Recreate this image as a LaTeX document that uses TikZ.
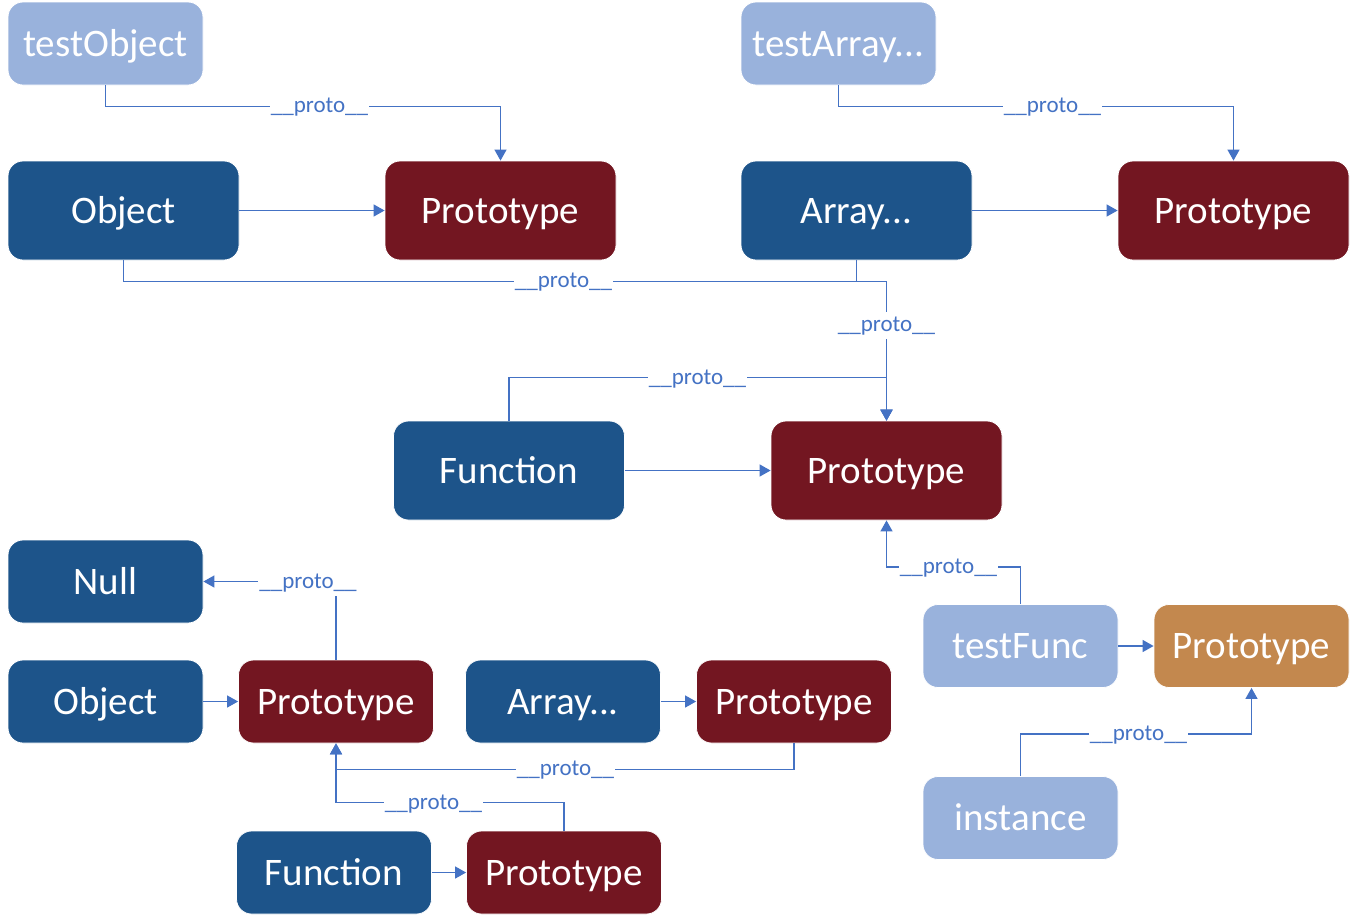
\documentclass[tikz,border=0pt]{standalone}
\usepackage{fontspec}
\setmainfont{Carlito}
\usetikzlibrary{arrows.meta}
\definecolor{lb}{HTML}{99B2DC}
\definecolor{db}{HTML}{1D548A}
\definecolor{dr}{HTML}{731621}
\definecolor{orng}{HTML}{C3884E}
\definecolor{ln}{HTML}{4472C4}
\begin{document}
\begin{tikzpicture}[x=1pt,y=-1pt,
  box/.style={rounded corners=15pt, draw=white, line width=0.8pt, text=white,
    font=\fontsize{39}{47}\selectfont, inner sep=0pt, text height=25pt, text depth=0pt},
  big/.style={box, minimum width=231pt, minimum height=99pt},
  small/.style={box, minimum width=195pt, minimum height=83pt},
  conn/.style={draw=ln, line width=1.4pt, -{Triangle[length=11pt,width=12pt]}},
  lbl/.style={fill=white, text=ln, font=\fontsize{23}{27}\selectfont,
    inner xsep=1pt, inner ysep=7pt, text height=13pt, text depth=0pt}]
\useasboundingbox (0,0) rectangle (1354,916);
% nodes
\node[small, fill=lb] (tobj) at (105.5,43.5) {testObject};
\node[small, fill=lb] (tarr) at (838.5,43.5) {testArray...};
\node[big, fill=db] (obj) at (123.5,210.5) {Object};
\node[big, fill=dr] (ptl) at (500.5,210.5) {Prototype};
\node[big, fill=db] (arr) at (856.5,210.5) {Array...};
\node[big, fill=dr] (ptr) at (1233.5,210.5) {Prototype};
\node[big, fill=db] (fn) at (509,470.5) {Function};
\node[big, fill=dr] (pm) at (886.5,470.5) {Prototype};
\node[small, fill=db] (null) at (105.5,581.5) {Null};
\node[small, fill=db] (objb) at (105.5,701.5) {Object};
\node[small, fill=dr] (pbl) at (336,701.5) {Prototype};
\node[small, fill=db] (arrb) at (563,701.5) {Array...};
\node[small, fill=dr] (pbr) at (794,701.5) {Prototype};
\node[small, fill=db] (fnb) at (334,872.5) {Function};
\node[small, fill=dr] (pb) at (564,872.5) {Prototype};
\node[small, fill=lb] (tf) at (1020.5,646) {testFunc};
\node[small, fill=orng] (po) at (1251.5,646) {Prototype};
\node[small, fill=lb] (inst) at (1020.5,818) {instance};
% connectors
\draw[conn] (tobj.south) -- ++(0,21) -| (ptl.north);
\draw[conn] (tarr.south) -- ++(0,21) -| (ptr.north);
\draw[conn] (obj.east) -- (ptl.west);
\draw[conn] (arr.east) -- (ptr.west);
\draw[conn] (obj.south) -- ++(0,21) -| (pm.north);
\draw[conn] (arr.south) -- ++(0,21) -| (pm.north);
\draw[conn] (fn.north) -- ++(0,-43) -| (pm.north);
\draw[conn] (fn.east) -- (pm.west);
\draw[conn] (tf.north) -- ++(0,-37) -| (pm.south);
\draw[conn] (tf.east) -- (po.west);
\draw[conn] (inst.north) -- ++(0,-42) -| (po.south);
\draw[conn] (pbl.north) |- (null.east);
\draw[conn] (objb.east) -- (pbl.west);
\draw[conn] (arrb.east) -- (pbr.west);
\draw[conn] (pbr.south) -- ++(0,26) -| (pbl.south);
\draw[conn] (pb.north) -- ++(0,-28) -| (pbl.south);
\draw[conn] (fnb.east) -- (pb.west);
% labels
\node[lbl] (l1) at (319.5,106) {\_\_proto\_\_};
\node[lbl] (l2) at (1052.5,106) {\_\_proto\_\_};
\node[lbl] (l3) at (563.5,281) {\_\_proto\_\_};
\node[lbl] (l4) at (886.5,325) {\_\_proto\_\_};
\node[lbl] (l5) at (697.5,378) {\_\_proto\_\_};
\node[lbl] (l6) at (948.5,567) {\_\_proto\_\_};
\node[lbl] (l7) at (1138.5,734) {\_\_proto\_\_};
\node[lbl] (l8) at (308,582) {\_\_proto\_\_};
\node[lbl] (l9) at (565.5,769) {\_\_proto\_\_};
\node[lbl] (l10) at (433.5,803) {\_\_proto\_\_};
\end{tikzpicture}
\end{document}
